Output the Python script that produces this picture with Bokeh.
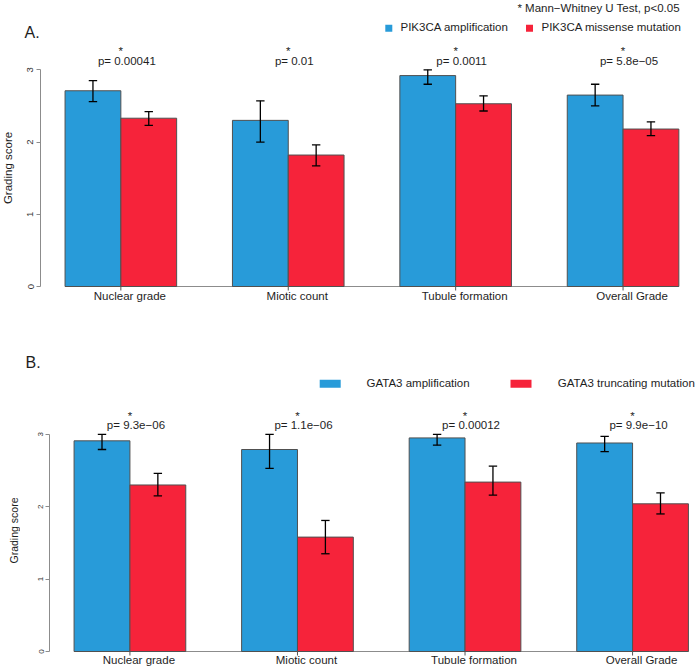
import numpy as np
from bokeh.plotting import figure
from bokeh.models import Range1d, LinearAxis, FixedTicker, ColumnDataSource
from bokeh.layouts import column, row
from bokeh.core.properties import value
from bokeh.embed import file_html
from bokeh.resources import INLINE

# ---------------- data ----------------
categories = ["Nuclear grade", "Miotic count", "Tubule formation", "Overall Grade"]

a_series = ["PIK3CA amplification", "PIK3CA missense mutation"]
a_amp_mean = [2.71, 2.30, 2.92, 2.65]
a_amp_lo = [2.56, 2.00, 2.80, 2.50]
a_amp_hi = [2.85, 2.57, 3.00, 2.80]
a_mis_mean = [2.33, 1.82, 2.53, 2.18]
a_mis_lo = [2.23, 1.67, 2.43, 2.09]
a_mis_hi = [2.42, 1.96, 2.64, 2.28]
a_pvalues = ["0.00041", "0.01", "0.0011", "5.8e\u221205"]

b_series = ["GATA3 amplification", "GATA3 truncating mutation"]
b_amp_mean = [2.91, 2.79, 2.95, 2.88]
b_amp_lo = [2.79, 2.53, 2.85, 2.76]
b_amp_hi = [3.00, 3.00, 3.00, 2.97]
b_tr_mean = [2.30, 1.58, 2.34, 2.04]
b_tr_lo = [2.15, 1.35, 2.16, 1.90]
b_tr_hi = [2.46, 1.81, 2.56, 2.19]
b_pvalues = ["9.3e\u221206", "1.1e\u221206", "0.00012", "9.9e\u221210"]

y_ticks = [0, 1, 2, 3]
note = "* Mann\u2212Whitney U Test, p<0.05"
y_title = "Grading score"

BLUE = "#289bd9"
RED = "#f6233a"
FONT = "Liberation Sans"
TXT = "#1e1e1e"
AXC = "#8c8c8c"

W = 697
H = 668
LW = 20            # left strip width (holds the y titles)


def base_fig(w, h, xr, yr, left=0):
    p = figure(width=w, height=h, x_range=xr, y_range=yr,
               output_backend="svg", toolbar_location=None,
               x_axis_location=None, y_axis_location=None,
               min_border_left=left, min_border_right=0,
               min_border_top=0, min_border_bottom=0,
               outline_line_color=None, background_fill_color="white",
               border_fill_color="white", frame_align=False)
    p.grid.visible = False
    return p


def strip(w, h, x0, y0):
    # a figure whose data units are page pixels (y downward)
    return base_fig(w, h, Range1d(x0, x0 + w), Range1d(y0 + h, y0))


def txt(p, x, y, t, size="11.5px", align="left", angle=0.0):
    p.text(x=x, y=y, text=t, text_align=align, text_baseline="middle",
           text_font=value(FONT), text_font_size=size, text_color=TXT,
           angle=angle)


def make_panel(top, height, axis_px, y0_px, unit, xunit,
               m1, lo1, hi1, m2, lo2, hi2, pvals, tick_fs, standoff,
               star_y, p_y, cat_y):
    left = axis_px - LW
    x_end = 0.56 + (W - axis_px) / xunit
    p = base_fig(W - LW, height, Range1d(0.56, x_end),
                 Range1d((y0_px - (top + height)) / unit, (y0_px - top) / unit),
                 left=left)

    ax = LinearAxis(ticker=FixedTicker(ticks=y_ticks), bounds=(0, 3),
                    major_label_orientation="vertical",
                    axis_line_color=AXC, major_tick_line_color=AXC,
                    major_tick_out=4, major_tick_in=0,
                    minor_tick_line_color=None,
                    major_label_text_font_size=tick_fs,
                    major_label_text_font=FONT,
                    major_label_text_color="#333333",
                    major_label_standoff=standoff)
    p.add_layout(ax, "left")

    n = len(categories)
    idx = np.arange(n)
    xb = 3 * idx + 1.5
    xr = 3 * idx + 2.5
    xc = 3 * idx + 2.0

    def dy(ref_y):
        return (y0_px - ref_y) / unit

    # baseline and category ticks
    p.segment(x0=[1], y0=[0], x1=[3 * n], y1=[0], line_color=AXC, line_width=1)
    p.segment(x0=xc, y0=np.zeros(n), x1=xc, y1=np.full(n, -4.0 / unit),
              line_color="#555555", line_width=1)

    p.vbar(x=xb, top=m1, bottom=0, width=1, fill_color=BLUE,
           line_color="#505050", line_width=1)
    p.vbar(x=xr, top=m2, bottom=0, width=1, fill_color=RED,
           line_color="#505050", line_width=1)

    cap = 4.2 / xunit
    for xs, lo, hi in ((xb, lo1, hi1), (xr, lo2, hi2)):
        p.segment(x0=xs, y0=lo, x1=xs, y1=hi, line_color="black", line_width=1.3)
        p.segment(x0=xs - cap, y0=lo, x1=xs + cap, y1=lo, line_color="black", line_width=1.3)
        p.segment(x0=xs - cap, y0=hi, x1=xs + cap, y1=hi, line_color="black", line_width=1.3)

    src = ColumnDataSource(dict(x=xc, star=["*"] * n,
                                p=["p= " + v for v in pvals],
                                cat=categories))
    common = dict(source=src, text_align="center", text_baseline="middle",
                  text_font=value(FONT), text_font_size="11.5px", text_color=TXT)
    p.text(x="x", y=dy(star_y), text="star", **common)
    p.text(x="x", y=dy(p_y), text="p", x_offset=6, **common)
    p.text(x="x", y=dy(cat_y), text="cat", x_offset=9, **common)
    return p


# ---------------- layout rows (page pixels) ----------------
A_STRIP_H = 44
A_MAIN_TOP, A_MAIN_H = 44, 274
B_STRIP_TOP, B_STRIP_H = 318, 77
B_MAIN_TOP, B_MAIN_H = 395, 273

# left strip with the rotated y titles
ls = strip(LW, H, 0, 0)
txt(ls, [7], [167.5], [y_title], size="11.5px", align="center", angle=np.pi / 2)
txt(ls, [13.5], [530], [y_title], size="10.5px", align="center", angle=np.pi / 2)

# panel A header
sa = strip(W - LW, A_STRIP_H, LW, 0)
txt(sa, [24], [31.5], ["A."], size="16px")
txt(sa, [679.3], [7.6], [note], align="right")
sa.scatter(x=[388.3, 529], y=[27.8, 27.8], marker="square", size=7,
           fill_color=[BLUE, RED], line_color=None)
txt(sa, [400, 541], [26.4, 26.4], a_series)

# panel A plot
pA = make_panel(A_MAIN_TOP, A_MAIN_H, 40, 286, 72.23, 55.8,
                a_amp_mean, a_amp_lo, a_amp_hi, a_mis_mean, a_mis_lo, a_mis_hi,
                a_pvalues, "9.5px", 3, 50.5, 60.4, 295.4)

# panel B header
sb = strip(W - LW, B_STRIP_H, LW, B_STRIP_TOP)
txt(sb, [25], [362.2], ["B."], size="16px")
sb.rect(x=[329.7, 520.5], y=[383.3, 383.3], width=21, height=8,
        width_units="screen", height_units="screen",
        fill_color=[BLUE, RED], line_color=None)
txt(sb, [366, 557.3], [382.6, 382.6], b_series)

# panel B plot
pB = make_panel(B_MAIN_TOP, B_MAIN_H, 49, 651, 72.4, 55.85,
                b_amp_mean, b_amp_lo, b_amp_hi, b_tr_mean, b_tr_lo, b_tr_hi,
                b_pvalues, "8px", 2, 415.8, 424.4, 659.9)

layout = row(ls, column(sa, pA, sb, pB))
open("out.html", "w").write(file_html(layout, INLINE))
